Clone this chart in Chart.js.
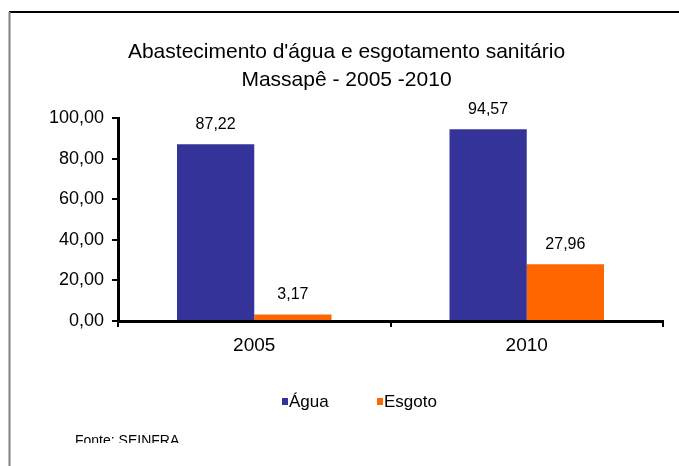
<!DOCTYPE html>
<html>
<head>
<meta charset="utf-8">
<script src="https://cdn.jsdelivr.net/npm/chart.js@4"></script>
<style>
  html, body { margin: 0; padding: 0; background: #fff; }
  #wrap { width: 679px; height: 466px; }
</style>
</head>
<body>
<div id="wrap"><canvas id="barChart" width="679" height="466"></canvas></div>
<script>
// dados
const anos = ['2005', '2010'];
const agua = [87.22, 94.57];
const esgoto = [3.17, 27.96];
const titulo = ["Abastecimento d'água e esgotamento sanitário", 'Massapê - 2005 -2010'];
const fonte = 'Fonte: SEINFRA';

const FONT = '"Liberation Sans", Arial, sans-serif';
const fmt = v => v.toFixed(2).replace('.', ',');

// moldura (linha de cima e esquerda)
const frame = {
    id: 'frame',
    beforeDraw(chart) {
        const c = chart.ctx;
        c.save();
        c.fillStyle = '#fff';
        c.fillRect(0, 0, chart.width, chart.height);
        c.strokeStyle = '#000';
        c.lineWidth = 2;
        c.beginPath();
        c.moveTo(9, 12);
        c.lineTo(chart.width, 12);
        c.stroke();
        c.strokeStyle = '#808080';
        c.beginPath();
        c.moveTo(9.5, 12);
        c.lineTo(9.5, chart.height);
        c.stroke();
        c.restore();
    }
};

// rotulos em cima das barras
const valueLabels = {
    id: 'valueLabels',
    afterDatasetsDraw(chart) {
        const c = chart.ctx;
        c.save();
        c.font = '16px ' + FONT;
        c.fillStyle = '#000';
        c.textAlign = 'center';
        c.textBaseline = 'middle';
        chart.data.datasets.forEach((ds, i) => {
            chart.getDatasetMeta(i).data.forEach((bar, j) => {
                c.fillText(fmt(ds.data[j]), bar.x, bar.y - 20);
            });
        });
        c.restore();
    }
};

// legenda e fonte
const legendAndSource = {
    id: 'legendAndSource',
    afterDraw(chart) {
        const c = chart.ctx;
        c.save();
        c.font = '17px ' + FONT;
        c.textBaseline = 'middle';
        const xs = [282, 377];
        chart.data.datasets.forEach((ds, i) => {
            c.fillStyle = ds.backgroundColor;
            c.fillRect(xs[i], 398, 6, 7);
            c.fillStyle = '#000';
            c.fillText(ds.label, xs[i] + 7, 402);
        });
        c.beginPath();
        c.rect(0, 0, chart.width, 443);
        c.clip();
        c.font = '14px ' + FONT;
        c.textBaseline = 'alphabetic';
        c.fillText(fonte, 75, 445);
        c.restore();
    }
};

new Chart(document.getElementById('barChart'), {
    type: 'bar',
    data: {
        labels: anos,
        datasets: [
            { label: 'Água', data: agua, backgroundColor: '#333399', borderWidth: 0 },
            { label: 'Esgoto', data: esgoto, backgroundColor: '#FF6600', borderWidth: 0 }
        ]
    },
    options: {
        responsive: false,
        animation: false,
        layout: { padding: { left: 30, right: 16, top: 0, bottom: 0 } },
        datasets: { bar: { categoryPercentage: 0.567, barPercentage: 1 } },
        plugins: {
            legend: { display: false },
            tooltip: { enabled: false },
            title: {
                display: true,
                text: titulo,
                color: '#000',
                font: { family: FONT, size: 21, weight: 'normal', lineHeight: 1.34 },
                padding: { top: 38, bottom: 24 }
            }
        },
        scales: {
            x: {
                grid: { display: true, drawOnChartArea: false, drawTicks: true, tickLength: 6, color: '#000', lineWidth: 2 },
                border: { display: true, color: '#000', width: 3 },
                ticks: { color: '#000', font: { family: FONT, size: 19 }, padding: 7 },
                afterFit(scale) { scale.height = 145; }
            },
            y: {
                min: 0,
                max: 100,
                ticks: { stepSize: 20, color: '#000', font: { family: FONT, size: 18 }, padding: 8, callback: v => fmt(v) },
                grid: { display: true, drawOnChartArea: false, drawTicks: true, tickLength: 6, color: '#000', lineWidth: 2 },
                border: { display: true, color: '#000', width: 3 },
                afterFit(scale) { scale.width = 88; }
            }
        }
    },
    plugins: [frame, valueLabels, legendAndSource]
});
</script>
</body>
</html>
